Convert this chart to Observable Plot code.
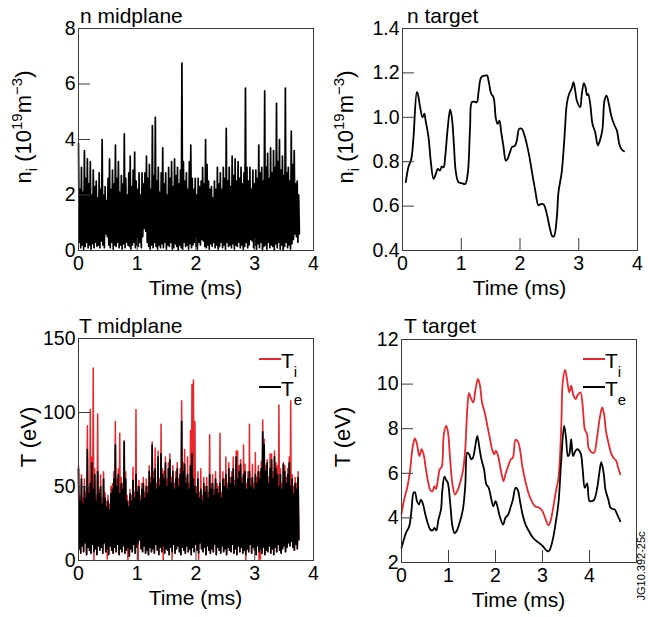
<!DOCTYPE html>
<html><head><meta charset="utf-8">
<script src="https://cdn.jsdelivr.net/npm/d3@7"></script>
<script src="https://cdn.jsdelivr.net/npm/@observablehq/plot@0.6"></script>
<style>
body{margin:0;background:#fff}
#wrap{position:relative;width:648px;height:617px;overflow:hidden;background:#fff}
.p{position:absolute}
</style></head><body><div id="wrap"></div>
<script>
// ---------- n midplane (fluctuating trace: successive peaks and troughs, 10^19 m^-3) ----------
const nMidEnd = 3.76;
const nMidPeaks = [3.85,2.2,3.0,2.1,3.6,2.6,3.3,2.4,3.2,2.0, 2.9,2.3,2.5,1.9,2.8,2.2,4.0,2.0,2.3,1.8,
  2.6,3.3,2.2,2.9,2.4,3.8,2.6,3.2,2.1,2.7, 2.4,4.2,2.6,2.0,2.8,3.4,2.3,2.9,3.55,2.5,
  2.2,2.8,2.0,2.8,2.4,2.8,3.4,2.6,3.1,2.2, 4.5,2.7,4.8,2.5,3.0,2.1,2.8,3.7,2.4,2.8,
  2.0,3.0,2.6,3.2,2.3,3.3,2.7,3.0,2.4,2.9, 6.75,3.2,2.5,2.8,2.2,3.2,3.8,2.6,2.2,2.6,
  2.0,2.6,2.3,2.5,3.0,2.4,4.0,3.1,2.5,2.2, 2.3,1.9,2.5,2.2,3.0,2.4,2.8,2.2,3.0,2.6,
  4.4,2.5,3.0,2.3,3.4,2.7,3.3,2.5,3.2,2.6, 3.0,2.4,2.8,5.85,3.0,2.5,3.0,2.2,2.9,2.4,
  2.9,2.6,3.8,2.8,3.0,2.5,5.75,3.0,3.5,2.6, 3.7,2.8,3.6,3.0,5.3,3.2,4.0,2.9,3.4,2.7,
  5.85,2.8,3.0,2.5,4.3,3.1,3.6,2.4,2.5,2.0, 1.9];
const nMidTroughs = [0.3,0.1,0.2,0.05,0.15,0.3,0.1,0.2,0.05,0.25, 0.1,0.3,0.15,0.2,0.1,0.35,0.2,0.1,0.6,0.5,
  0.2,0.1,0.3,0.05,0.2,0.15,0.3,0.1,0.2,0.05, 0.25,0.1,0.3,0.2,0.15,0.05,0.2,0.3,0.1,0.2,
  0.15,0.3,0.1,0.5,0.8,0.7,0.3,0.15,0.05,0.2, 0.1,0.3,0.15,0.05,0.2,0.1,0.25,0.1,0.3,0.05,
  0.2,0.15,0.3,0.05,0.1,0.25,0.15,0.0,0.2,0.1, 0.05,0.3,0.15,0.2,0.05,0.25,0.1,0.2,0.3,0.15,
  0.05,0.3,0.2,0.4,0.35,0.15,0.1,0.2,0.05,0.25, 0.15,0.3,0.1,0.2,0.05,0.15,0.3,0.1,0.2,0.05,
  0.3,0.15,0.2,0.1,0.25,0.05,0.2,0.15,0.3,0.1, 0.2,0.05,0.15,0.3,0.1,0.2,0.4,0.35,0.1,0.2,
  0.05,0.25,0.1,0.3,0.0,0.15,0.2,0.05,0.3,0.1, 0.2,0.15,0.0,0.25,0.1,0.3,0.05,0.2,0.0,0.15,
  0.3,0.1,0.2,0.05,0.25,0.4,0.6,0.5,0.3,0.6];

// ---------- n target ----------
const nTgtTime = [0.056,0.10,0.15,0.187,0.244,0.26,0.30,0.34,0.374,0.39, 0.443,0.48,0.528,0.567,0.60,0.635,0.669,0.70,0.726,0.771,
  0.811,0.84,0.874,0.908,0.953,1.01,1.067,1.11,1.15,1.18, 1.225,1.265,1.294,1.34,1.396,1.44,1.464,1.51,1.55,1.59,
  1.62,1.65,1.68,1.72,1.758,1.79,1.83,1.87,1.91,1.946, 1.986,2.03,2.077,2.145,2.20,2.26,2.315,2.36,2.405,2.456,
  2.51,2.553,2.58,2.627,2.655,2.71,2.757,2.797,2.837,2.88, 2.91,2.94,2.967,3.025,3.05,3.087,3.12,3.14,3.16,3.195,
  3.234,3.28,3.325,3.36,3.404,3.438,3.472,3.50,3.56,3.61, 3.65,3.69,3.73,3.77];
const nTgt = [0.708,0.775,0.813,0.91,1.113,1.106,1.046,1.00,1.016,0.99, 0.91,0.805,0.723,0.745,0.768,0.76,0.778,0.775,0.82,0.955,
  1.034,1.0,0.88,0.753,0.708,0.703,0.70,0.745,0.955,1.068, 1.07,1.068,1.113,1.18,1.188,1.188,1.166,1.106,1.09,0.993,
  0.97,0.985,0.933,0.866,0.805,0.813,0.843,0.868,0.87,0.895, 0.948,0.948,0.918,0.843,0.76,0.67,0.603,0.61,0.607,0.565,
  0.498,0.463,0.465,0.55,0.663,0.753,0.91,1.06,1.106,1.13, 1.158,1.12,1.076,1.046,1.1,1.154,1.13,1.1,1.105,1.06,
  0.97,0.933,0.873,0.895,0.948,1.076,1.098,1.076,1.0,0.963, 0.94,0.88,0.855,0.847];

// ---------- T midplane (eV): successive peaks and troughs ----------
const tMidEnd = 3.75;
const TeMidPeaks = [62,40,55,38,50,42,75,45,52,66, 48,58,40,60,45,50,38,55,42,36, 40,34,45,48,55,78,50,58,45,52,
  48,80,55,40,36,45,40,54,42,58, 46,50,40,48,52,42,50,45,60,52, 78,55,62,48,70,50,72,58,55,66,
  50,62,68,52,60,48,55,62,50,58, 94,60,65,52,58,48,64,72,55,50, 45,55,42,48,40,52,46,50,42,58,
  48,52,44,55,48,45,52,42,55,50, 58,48,62,52,56,62,50,70,55,60, 65,52,58,60,48,55,60,50,56,48,
  58,52,60,55,62,87,78,60,66,52, 62,68,55,70,62,58,50,58,48,65, 60,52,58,66,50,55,45,52,48,56];
const TeMidTroughs = [8,5,10,6,12,4,9,7,5,11, 6,8,4,10,7,9,5,12,6,8, 4,10,7,5,9,6,11,4,8,6,
  10,5,7,9,3,8,6,11,5,9, 12,14,8,6,10,5,7,4,9,6, 8,5,11,7,4,9,6,10,5,8,
  7,4,9,6,11,5,8,10,6,4, 9,7,5,10,6,8,4,9,6,11, 7,5,12,8,6,9,4,10,7,5,
  8,6,11,4,9,7,5,10,6,8, 4,9,7,6,11,5,8,4,10,6, 9,5,7,4,8,6,11,5,9,7,
  4,10,6,8,5,9,4,7,6,10, 5,8,4,9,6,11,7,5,8,10, 6,9,12,10,13,9,7,11,8,14];
const TiMidPeaks = [64,44,58,42,55,46,91,50,102,70, 130,62,44,99,48,58,42,60,46,40, 44,38,50,52,60,94,55,62,86,56,
  52,81,60,44,40,48,44,63,46,102, 50,54,44,52,56,46,55,50,64,56, 80,60,76,52,74,55,92,62,60,70,
  55,66,72,56,64,52,60,66,55,62, 108,66,75,56,70,52,88,119,122,94, 50,60,46,62,44,56,50,56,46,85,
  52,58,48,60,52,50,86,46,60,55, 70,52,66,56,60,70,54,74,74,64, 68,56,78,65,52,60,92,55,65,52,
  73,56,64,60,67,95,82,64,68,56, 72,72,60,74,66,64,105,62,52,66, 64,56,62,70,108,58,50,56,52,60];
const TiMidTroughs = [8,5,10,6,12,4,9,7,5,11, 0,8,4,10,7,9,5,12,6,1, 4,10,7,5,9,6,11,4,8,6,
  10,5,7,0,3,8,6,11,5,9, 0,14,8,6,10,5,7,4,9,6, 8,5,11,7,4,9,6,0,5,8,
  7,4,9,0,11,5,8,10,6,4, 9,7,5,10,6,8,4,9,6,11, 7,0,12,8,6,9,4,10,7,5,
  8,6,11,4,9,7,5,10,6,8, 4,9,7,6,11,5,8,4,10,6, 9,5,7,0,8,6,11,5,9,7,
  4,10,0,1,5,9,4,7,6,10, 5,8,4,9,6,11,7,5,8,10, 6,9,12,10,13,9,7,11,8,14];

// ---------- T target (eV) ----------
const TiTgtTime = [0,0.057,0.128,0.185,0.236,0.285,0.33,0.379,0.428,0.47, 0.52,0.57,0.614,0.66,0.70,0.735,0.77,0.814,0.857,0.9,
  0.95,0.985,1.035,1.09,1.14,1.2,1.257,1.313,1.356,1.4, 1.435,1.47,1.527,1.57,1.627,1.67,1.713,1.77,1.827,1.884,
  1.927,1.97,2.01,2.056,2.11,2.17,2.21,2.27,2.327,2.37, 2.426,2.47,2.52,2.57,2.627,2.7,2.77,2.84,2.93,3.0,
  3.056,3.126,3.17,3.233,3.28,3.34,3.4,3.43,3.48,3.52, 3.57,3.61,3.66,3.71,3.74,3.805,3.855,3.9,3.95,3.98,
  4.05,4.1,4.16,4.22,4.27,4.31,4.35,4.41,4.47,4.52, 4.57,4.61,4.655];
const TiTgt = [4.19,4.82,5.42,6.18,7.15,7.56,7.3,6.77,7.08,6.85, 6.18,5.58,5.23,5.2,5.42,5.3,5.65,6.18,6.3,7.75,
  8.13,7.9,6.63,5.42,5.05,5.27,5.65,6.18,7.08,8.88, 9.6,9.4,9.18,9.7,10.23,9.93,9.18,8.73,8.13,7.53,
  7.08,6.85,7.0,6.77,6.18,5.65,5.95,6.32,6.63,6.7, 7.5,7.45,7.08,6.32,5.73,5.13,4.75,4.52,4.45,4.3,
  4.0,3.67,3.85,4.52,5.13,5.8,8.13,10.08,10.64,10.23, 9.63,9.93,9.48,9.33,9.48,9.63,9.03,7.98,7.75,7.15,
  6.93,6.93,7.6,8.5,8.95,8.65,7.9,7.3,6.85,6.66, 6.55,6.25,5.95];
const TeTgtTime = [0,0.04,0.093,0.164,0.214,0.257,0.285,0.33,0.37,0.414, 0.46,0.5,0.557,0.614,0.66,0.70,0.74,0.785,0.84,0.87,
  0.914,0.95,0.985,1.035,1.085,1.13,1.17,1.235,1.306,1.356, 1.4,1.44,1.48,1.52,1.57,1.613,1.657,1.7,1.756,1.806,
  1.855,1.913,1.955,2.0,2.04,2.09,2.163,2.21,2.27,2.327, 2.37,2.426,2.47,2.527,2.585,2.64,2.713,2.8,2.91,3.0,
  3.07,3.126,3.17,3.233,3.28,3.34,3.4,3.46,3.5,3.54, 3.57,3.61,3.65,3.7,3.74,3.81,3.855,3.9,3.95,4.0,
  4.05,4.1,4.17,4.21,4.25,4.3,4.34,4.4,4.45,4.5, 4.54,4.59,4.655];
const TeTgt = [2.65,2.95,3.32,3.62,4.37,5.13,5.15,4.75,4.6,4.82, 4.6,4.22,3.77,3.47,3.44,3.55,3.44,3.92,4.37,5.27,
  5.85,5.7,5.58,4.68,3.62,3.32,3.4,3.77,4.37,5.42, 6.93,6.85,6.63,6.7,7.23,7.68,7.15,6.63,6.18,5.5,
  5.35,4.82,4.52,4.75,4.52,4.07,3.7,4.0,4.15,4.52, 4.82,5.35,5.27,4.68,4.07,3.7,3.4,3.1,2.9,2.75,
  2.57,2.5,2.65,3.17,3.77,4.68,6.63,8.13,7.6,6.77, 6.85,7.53,6.77,7.0,7.08,6.9,6.18,5.35,5.55,4.75,
  4.75,4.82,5.42,6.03,6.5,6.03,5.27,4.82,4.45,4.4, 4.37,4.15,3.85];

// ---------- axes ----------
const xTicks4 = [0,1,2,3,4];
const nMidYTicks = [0,2,4,6,8];
const nTgtYTicks = [0.4,0.6,0.8,1.0,1.2,1.4];
const tMidYTicks = [0,50,100,150];
const tTgtYTicks = [2,4,6,8,10,12];

const FONT = '"Liberation Sans", Arial, Helvetica, sans-serif';
const RED = "#e8262c";
const FRAME = "#3a3a3a";

function interleave(peaks, troughs, tEnd) {
  const n = Math.min(peaks.length, troughs.length);
  const vals = [];
  for (let i = 0; i < n; i++) vals.push(peaks[i], troughs[i]);
  const step = tEnd / (vals.length - 1);
  return vals.map((v, k) => ({t: k * step, v}));
}
const zip = (ts, vs) => ts.map((t, i) => ({t, v: vs[i]}));

const wrap = document.getElementById("wrap");

function panel(o) {
  const svg = Plot.plot({
    width: 324, height: o.height,
    marginLeft: o.ml, marginRight: o.mr, marginTop: o.mt, marginBottom: o.mb,
    style: {fontFamily: FONT, fontSize: "19.5px", color: "#000", background: "transparent", overflow: "visible"},
    x: {domain: o.xDomain, label: null},
    y: {domain: o.yDomain, label: null},
    marks: [
      ...o.marks,
      Plot.frame({stroke: FRAME, strokeWidth: 1}),
      Plot.axisX({ticks: o.xTicks, tickSize: 12, dy: -12, tickFormat: () => "", stroke: FRAME, label: null}),
      Plot.axisX({ticks: o.xTicks, tickSize: 0, tickPadding: 6, tickFormat: d3.format("d"), label: null}),
      Plot.axisY({ticks: o.yTicks, tickSize: 12, dx: 12, tickFormat: () => "", stroke: FRAME, label: null}),
      Plot.axisY({ticks: o.yTicks, tickSize: 0, tickPadding: 3, tickFormat: o.yFmt, label: null})
    ]
  });
  const div = document.createElement("div");
  div.className = "p";
  div.style.left = o.left + "px";
  div.style.top = o.top + "px";
  div.appendChild(svg);
  wrap.appendChild(div);
  const s = d3.select(svg);
  const fx = (o.ml + 324 - o.mr) / 2;
  const fb = o.height - o.mb;
  // title
  s.append("text").attr("x", o.titleX).attr("y", 23).attr("text-anchor", "start").attr("font-size", 21).attr("font-family", FONT).attr("fill", "#000").text(o.title);
  // x label
  s.append("text").attr("x", fx).attr("y", fb + 45).attr("text-anchor", "middle").attr("font-size", 21).attr("font-family", FONT).attr("fill", "#000").text("Time (ms)");
  return s;
}

function yLabel(s, x, y, parts) {
  const t = s.append("text").attr("transform", `translate(${x},${y}) rotate(-90)`)
    .attr("text-anchor", "middle").attr("font-size", 22).attr("font-family", FONT).attr("fill", "#000");
  let cur = 0;
  for (const [txt, shift] of parts) {
    const sp = t.append("tspan").attr("dy", shift - cur).text(txt);
    if (shift !== 0) sp.attr("font-size", 15);
    cur = shift;
  }
}

function legend(s) {
  const items = [[RED, "i", 49], ["#000", "e", 77]];
  for (const [c, sub, y] of items) {
    s.append("line").attr("x1", 259).attr("x2", 281).attr("y1", y).attr("y2", y).attr("stroke", c).attr("stroke-width", 2);
    const t = s.append("text").attr("x", 281).attr("y", y + 9).attr("text-anchor", "start").attr("font-size", 21).attr("font-family", FONT).attr("fill", "#000");
    t.append("tspan").text("T");
    t.append("tspan").attr("dy", 9).attr("font-size", 15).text(sub);
  }
}

// Panel 1: n midplane
const p1 = panel({
  left: 0, top: 0, height: 308, ml: 78, mr: 11, mt: 28, mb: 58,
  xDomain: [0, 4], xTicks: xTicks4, yDomain: [0, 8], yTicks: nMidYTicks, yFmt: d3.format("d"),
  title: "n midplane", titleX: 80,
  marks: [Plot.line(interleave(nMidPeaks, nMidTroughs, nMidEnd), {x: "t", y: "v", stroke: "#000", strokeWidth: 1.7})]
});
yLabel(p1, 31, 127, [["n", 0], ["i", 6], [" (10", 0], ["19", -9], ["m", 0], ["−3", -9], [")", 0]]);

// Panel 2: n target
const p2 = panel({
  left: 324, top: 0, height: 308, ml: 78, mr: 11, mt: 28, mb: 58,
  xDomain: [0, 4], xTicks: xTicks4, yDomain: [0.4, 1.4], yTicks: nTgtYTicks, yFmt: d3.format(".1f"),
  title: "n target", titleX: 83,
  marks: [Plot.line(zip(nTgtTime, nTgt), {x: "t", y: "v", stroke: "#000", strokeWidth: 1.8, curve: "catmull-rom"})]
});
yLabel(p2, 29, 127, [["n", 0], ["i", 6], [" (10", 0], ["19", -9], ["m", 0], ["−3", -9], [")", 0]]);

// Panel 3: T midplane
const p3 = panel({
  left: 0, top: 310, height: 307, ml: 78, mr: 11, mt: 28, mb: 57,
  xDomain: [0, 4], xTicks: xTicks4, yDomain: [0, 150], yTicks: tMidYTicks, yFmt: d3.format("d"),
  title: "T midplane", titleX: 79,
  marks: [
    Plot.line(interleave(TiMidPeaks, TiMidTroughs, tMidEnd), {x: "t", y: "v", stroke: RED, strokeWidth: 1.5}),
    Plot.line(interleave(TeMidPeaks, TeMidTroughs, tMidEnd), {x: "t", y: "v", stroke: "#000", strokeWidth: 1.7})
  ]
});
yLabel(p3, 36, 127, [["T (eV)", 0]]);
legend(p3);

// Panel 4: T target
const p4 = panel({
  left: 324, top: 310, height: 307, ml: 77, mr: 12, mt: 29, mb: 55,
  xDomain: [0, 5], xTicks: xTicks4, yDomain: [2, 12], yTicks: tTgtYTicks, yFmt: d3.format("d"),
  title: "T target", titleX: 80,
  marks: [
    Plot.line(zip(TiTgtTime, TiTgt), {x: "t", y: "v", stroke: RED, strokeWidth: 1.8, curve: "catmull-rom"}),
    Plot.line(zip(TeTgtTime, TeTgt), {x: "t", y: "v", stroke: "#000", strokeWidth: 1.8, curve: "catmull-rom"})
  ]
});
yLabel(p4, 26, 127, [["T (eV)", 0]]);
legend(p4);
p4.append("text").attr("transform", "translate(321,256) rotate(-90)").attr("text-anchor", "middle")
  .attr("font-size", 11).attr("font-family", FONT).attr("fill", "#000").text("JG10.392-25c");
</script></body></html>
